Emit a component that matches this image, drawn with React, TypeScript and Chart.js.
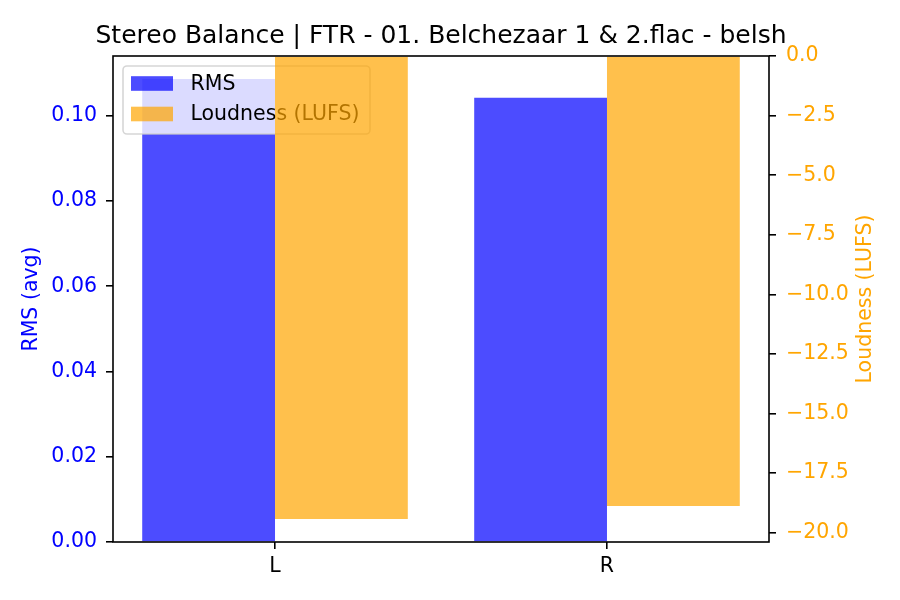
import React, { useEffect, useRef } from 'react';
import { Chart, registerables } from 'chart.js';

Chart.register(...registerables);

const channels = ['L', 'R'];
const rmsValues = [0.1086, 0.1042];
const loudnessValues = [-19.42, -18.88];
const titleText = 'Stereo Balance | FTR - 01. Belchezaar 1 & 2.flac - belsh';

const FONT = '"DejaVu Sans", sans-serif';
const BLUE = 'rgba(0, 0, 255, 0.7)';
const ORANGE = 'rgba(255, 165, 0, 0.7)';

// legend sits between the two axes' bars (like a twinx plot)
const drawLegend = (ctx: CanvasRenderingContext2D) => {
  const lx = 123, ly = 66, lw = 247, lh = 68;
  ctx.save();
  ctx.beginPath();
  ctx.roundRect(lx, ly, lw, lh, 4);
  ctx.fillStyle = 'rgba(255,255,255,0.8)';
  ctx.fill();
  ctx.strokeStyle = 'rgba(204,204,204,0.8)';
  ctx.lineWidth = 1.6;
  ctx.stroke();

  const items = [
    { label: 'RMS', color: BLUE, y: 83.5 },
    { label: 'Loudness (LUFS)', color: ORANGE, y: 114 },
  ];
  ctx.font = `20.5px ${FONT}`;
  ctx.textAlign = 'left';
  ctx.textBaseline = 'middle';
  items.forEach(it => {
    ctx.fillStyle = it.color;
    ctx.fillRect(131, it.y - 7.3, 42, 14.6);
    ctx.fillStyle = '#000';
    ctx.fillText(it.label, 190.5, it.y + 1);
  });
  ctx.restore();
};

const decor = {
  id: 'decor',
  beforeDraw(chart: Chart) {
    const { ctx } = chart;
    ctx.save();
    ctx.fillStyle = '#fff';
    ctx.fillRect(0, 0, chart.width, chart.height);
    ctx.restore();
  },
  beforeDatasetDraw(chart: Chart, args: any) {
    if (args.index === 1) return false;
  },
  afterDatasetsDraw(chart: Chart) {
    const { ctx, chartArea: a } = chart;
    drawLegend(ctx);
    ctx.save();
    ctx.beginPath();
    ctx.rect(a.left, a.top, a.right - a.left, a.bottom - a.top);
    ctx.clip();
    chart.getDatasetMeta(1).controller.draw();
    ctx.restore();
  },
  afterDraw(chart: Chart) {
    const { ctx, chartArea: a } = chart;
    const midY = (a.top + a.bottom) / 2;
    ctx.save();

    ctx.strokeStyle = '#000';
    ctx.lineWidth = 1.6;
    ctx.strokeRect(a.left, a.top, a.right - a.left, a.bottom - a.top);

    ctx.fillStyle = '#000';
    ctx.font = `25px ${FONT}`;
    ctx.textAlign = 'center';
    ctx.textBaseline = 'middle';
    ctx.fillText(titleText, (a.left + a.right) / 2, 36);

    ctx.font = `20.5px ${FONT}`;
    ctx.save();
    ctx.translate(32, midY);
    ctx.rotate(-Math.PI / 2);
    ctx.fillStyle = 'blue';
    ctx.fillText('RMS (avg)', 0, 0);
    ctx.restore();
    ctx.save();
    ctx.translate(866, midY);
    ctx.rotate(-Math.PI / 2);
    ctx.fillStyle = 'orange';
    ctx.fillText('Loudness (LUFS)', 0, 0);
    ctx.restore();
    ctx.restore();
  },
};

const tickGrid = { drawOnChartArea: false, offset: false, tickLength: 7, color: '#000', lineWidth: 1.6 };

const App: React.FC = () => {
  const canvasRef = useRef<HTMLCanvasElement>(null);

  useEffect(() => {
    if (!canvasRef.current) return;

    const chart = new Chart(canvasRef.current, {
      type: 'bar',
      data: {
        datasets: [
          {
            label: 'RMS',
            data: rmsValues.map((v, i) => ({ x: i, y: v })),
            backgroundColor: BLUE,
            yAxisID: 'y',
          },
          {
            label: 'Loudness (LUFS)',
            data: loudnessValues.map((v, i) => ({ x: i, y: v })),
            backgroundColor: ORANGE,
            yAxisID: 'y2',
          },
        ],
      },
      options: {
        animation: false,
        responsive: false,
        devicePixelRatio: 1,
        layout: { padding: { top: 56, left: 0, right: 0, bottom: 0 } },
        datasets: { bar: { categoryPercentage: 0.8, barPercentage: 1 } },
        plugins: { legend: { display: false }, title: { display: false }, tooltip: { enabled: false } },
        scales: {
          x: {
            type: 'linear',
            offset: false,
            min: -0.488,
            max: 1.488,
            afterFit: s => { s.height = 58; },
            grid: tickGrid,
            border: { display: false },
            ticks: {
              stepSize: 1,
              includeBounds: false,
              autoSkip: false,
              maxRotation: 0,
              padding: 5,
              color: '#000',
              font: { family: FONT, size: 20.5 },
              callback: v => channels[Number(v)] ?? '',
            },
          },
          y: {
            position: 'left',
            min: 0,
            max: 0.114,
            afterFit: s => { s.width = 113; },
            grid: tickGrid,
            border: { display: false },
            ticks: {
              stepSize: 0.02,
              includeBounds: false,
              padding: 9,
              color: 'blue',
              font: { family: FONT, size: 20.5 },
              callback: v => Number(v).toFixed(2),
            },
          },
          y2: {
            position: 'right',
            min: -20.39,
            max: 0,
            afterFit: s => { s.width = 131; },
            grid: tickGrid,
            border: { display: false },
            ticks: {
              stepSize: 2.5,
              includeBounds: false,
              padding: 10,
              color: 'orange',
              font: { family: FONT, size: 20.5 },
              callback: v => Number(v).toFixed(1).replace('-', '\u2212'),
            },
          },
        },
      },
      plugins: [decor],
    });

    return () => { chart.destroy(); };
  }, []);

  return (
    <div style={{ position: 'fixed', left: 0, top: 0, width: 900, height: 600, background: '#fff' }}>
      <canvas ref={canvasRef} width={900} height={600} />
    </div>
  );
};

export default App;
